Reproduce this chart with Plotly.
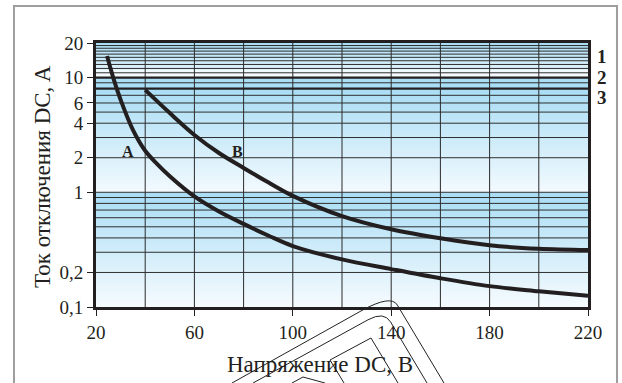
import math
import plotly.graph_objects as go

# ---------------- data ----------------
volt_A = [24.5, 27.5, 30, 35, 40, 45, 50, 60, 70, 80, 90, 100, 120, 140, 160, 180, 200, 220]
curr_A = [15.4, 9.2, 6.4, 3.5, 2.3, 1.75, 1.38, 0.92, 0.68, 0.53, 0.42, 0.34, 0.26, 0.214, 0.178, 0.152, 0.137, 0.125]

volt_B = [40, 50, 60, 70, 80, 90, 100, 120, 140, 160, 180, 200, 220]
curr_B = [7.8, 4.9, 3.16, 2.2, 1.63, 1.22, 0.93, 0.62, 0.476, 0.397, 0.345, 0.322, 0.314]

x_ticks = [20, 60, 100, 140, 180, 220]
x_grid = [40, 60, 80, 100, 120, 140, 160, 180, 200]
y_ticks = [0.1, 0.2, 1, 2, 4, 6, 10, 20]
y_ticktext = ["0,1", "0,2", "1", "2", "4", "6", "10", "20"]
y_grid_thin = [0.2, 0.3, 0.4, 0.5, 0.6, 0.7, 0.8, 0.9, 1, 2, 3, 4, 5, 6, 7, 9,
               11, 12, 13, 14, 15, 16, 17, 18, 19]
y_grid_thick = [8, 10]

# shaded zones: (low, high, colour at low, colour at high)
bands = [
    (0.1, 1, "#f6fbfe", "#a9ddf5"),
    (1, 8, "#f3fafe", "#a9ddf5"),
    (8, 10, "#aadef5", "#aadef5"),
    (10, 11.5, "#f4fafd", "#f4fafd"),
    (11.5, 20, "#e4f4fc", "#a9ddf5"),
]
zone_labels = ["1", "2", "3"]
X_MIN, X_MAX = 20, 220
Y_MIN, Y_MAX = 0.1, 20

INK = "#231f20"
SERIF = "Liberation Serif, Times New Roman, serif"

fig = go.Figure()

# gradient bands
for lo, hi, c_lo, c_hi in bands:
    fig.add_trace(go.Scatter(
        x=[X_MIN, X_MAX, X_MAX, X_MIN, X_MIN], y=[lo, lo, hi, hi, lo],
        mode="lines", line=dict(width=0), fill="toself",
        fillgradient=dict(type="vertical", colorscale=[[0, c_lo], [1, c_hi]]),
        hoverinfo="skip", showlegend=False))

# grid lines
gx, gy = [], []
for v in x_grid:
    gx += [v, v, None]
    gy += [Y_MIN, Y_MAX, None]
fig.add_trace(go.Scatter(x=gx, y=gy, mode="lines", line=dict(color="#2a2a2a", width=1),
                         hoverinfo="skip", showlegend=False))
hx, hy = [], []
for v in y_grid_thin:
    hx += [X_MIN, X_MAX, None]
    hy += [v, v, None]
fig.add_trace(go.Scatter(x=hx, y=hy, mode="lines", line=dict(color="#2e2e2e", width=1),
                         hoverinfo="skip", showlegend=False))
tx, ty = [], []
for v in y_grid_thick:
    tx += [X_MIN, X_MAX, None]
    ty += [v, v, None]
fig.add_trace(go.Scatter(x=tx, y=ty, mode="lines", line=dict(color=INK, width=2.2),
                         hoverinfo="skip", showlegend=False))

# curves
fig.add_trace(go.Scatter(x=volt_A, y=curr_A, mode="lines",
                         line=dict(color=INK, width=4, shape="spline", smoothing=1.0),
                         showlegend=False))
fig.add_trace(go.Scatter(x=volt_B, y=curr_B, mode="lines",
                         line=dict(color=INK, width=4, shape="spline", smoothing=1.0),
                         showlegend=False))

# ---------- layout geometry helpers (screen pixel -> paper) ----------
W, H = 622, 383
L, R, T, B = 96, 34, 43, 76
PW, PH = W - L - R, H - T - B


def px(x):
    return (x - L) / PW


def py(y):
    return (H - B - y) / PH


def path(points_cmds):
    out = []
    for cmd, pts in points_cmds:
        s = cmd
        for (x, y) in pts:
            s += f" {px(x):.4f},{py(y):.4f}"
        out.append(s)
    return " ".join(out)


shapes = []
# outer frame (left, top, right edges)
frame = [("M", [(14, 390)]), ("L", [(14, 6)]), ("L", [(617, 6)]), ("L", [(617, 390)])]
shapes.append(dict(type="path", xref="paper", yref="paper", path=path(frame),
                   line=dict(color="#9e9e9e", width=2), layer="above"))
# stamp-like outlines near the x title
outline_paths = [
    [("M", [(232, 383)]), ("L", [(362, 310.4)]), ("Q", [(391, 294.5), (397.3, 305)]), ("L", [(444, 383)])],
    [("M", [(253, 383)]), ("L", [(368, 319.8)]), ("Q", [(384, 311), (390.6, 322)]), ("L", [(427, 383)])],
    [("M", [(344, 383)]), ("L", [(330, 360)]), ("L", [(371, 338)]), ("L", [(398, 383)])],
    [("M", [(292, 383)]), ("L", [(303, 377)]), ("L", [(325, 383)])],
]
for p in outline_paths:
    shapes.append(dict(type="path", xref="paper", yref="paper", path=path(p),
                       line=dict(color="#222222", width=1), layer="above"))

annotations = []
# axis titles
annotations.append(dict(text="Напряжение DC, B", xref="paper", yref="paper",
                        x=px(320), y=py(364), xanchor="center", yanchor="middle",
                        showarrow=False, font=dict(family=SERIF, size=23, color=INK)))
annotations.append(dict(text="Ток отключения DC, A", xref="paper", yref="paper",
                        x=px(42), y=py(177), xanchor="center", yanchor="middle",
                        showarrow=False, textangle=-90,
                        font=dict(family=SERIF, size=23, color=INK)))
# curve labels
annotations.append(dict(text="<b>A</b>", x=33, y=math.log10(2.25), xref="x", yref="y",
                        showarrow=False, font=dict(family=SERIF, size=16, color=INK)))
annotations.append(dict(text="<b>B</b>", x=77.5, y=math.log10(2.25), xref="x", yref="y",
                        showarrow=False, font=dict(family=SERIF, size=16, color=INK)))
# zone labels
for lab, ypix in zip(zone_labels, [57, 77, 97]):
    annotations.append(dict(text=f"<b>{lab}</b>", xref="paper", yref="paper",
                            x=px(602), y=py(ypix), xanchor="center", yanchor="middle",
                            showarrow=False, font=dict(family=SERIF, size=19, color=INK)))

fig.update_layout(
    width=W, height=H,
    margin=dict(l=L, r=R, t=T, b=B, autoexpand=False),
    paper_bgcolor="white", plot_bgcolor="white",
    shapes=shapes, annotations=annotations,
    xaxis=dict(range=[X_MIN, X_MAX], tickvals=x_ticks, ticks="outside", ticklen=6,
               tickwidth=1, tickcolor=INK, showgrid=False, zeroline=False,
               showline=True, linewidth=3, linecolor=INK, mirror=True,
               ticklabelstandoff=0,
               tickfont=dict(family=SERIF, size=19, color=INK)),
    yaxis=dict(type="log", range=[math.log10(Y_MIN), math.log10(Y_MAX)],
               tickvals=y_ticks, ticktext=y_ticktext, ticks="outside", ticklen=6,
               tickwidth=1, tickcolor=INK, showgrid=False, zeroline=False,
               showline=True, linewidth=3, linecolor=INK, mirror=True,
               tickfont=dict(family=SERIF, size=19, color=INK)),
)

fig.write_html("out.html", config={"displayModeBar": False},
               post_script="document.body.style.margin='0px';")
